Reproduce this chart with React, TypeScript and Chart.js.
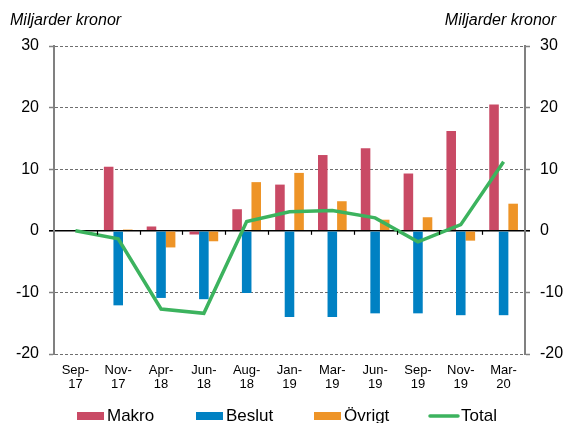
import React, { useEffect, useRef } from 'react';
import { Chart, registerables } from 'chart.js';

Chart.register(...registerables);

const categories = ['Sep-17', 'Nov-17', 'Apr-18', 'Jun-18', 'Aug-18', 'Jan-19', 'Mar-19', 'Jun-19', 'Sep-19', 'Nov-19', 'Mar-20'];
const makro = [0, 10.4, 0.7, -0.6, 3.5, 7.5, 12.3, 13.4, 9.3, 16.2, 20.5];
const beslut = [0, -12.1, -10.9, -11.1, -10.1, -14.0, -14.0, -13.4, -13.4, -13.7, -13.7];
const ovrigt = [0, 0.2, -2.7, -1.7, 7.9, 9.4, 4.8, 1.8, 2.2, -1.6, 4.4];
const total = [0, -1.3, -12.7, -13.4, 1.5, 3.1, 3.3, 2.1, -1.8, 1.0, 11.2];
const yMin = -20;
const yMax = 30;
const yStep = 10;
const axisTitle = 'Miljarder kronor';
const seriesNames = ['Makro', 'Beslut', 'Övrigt', 'Total'];

const COLORS = {
  makro: '#C94A65',
  beslut: '#0081C3',
  ovrigt: '#EE9427',
  total: '#3CB35E',
};

const FONT = '"Liberation Sans", Arial, sans-serif';

const overlayPlugin = {
  id: 'overlay',
  afterDraw(chart: any) {
    const ctx = chart.ctx;
    const x = chart.scales.x;
    const y = chart.scales.y;
    const zeroY = y.getPixelForValue(0);
    ctx.save();
    // boundary ticks on the zero line
    ctx.strokeStyle = '#000';
    ctx.lineWidth = 1.2;
    for (let i = 0; i < categories.length - 1; i++) {
      const bx = (x.getPixelForValue(i) + x.getPixelForValue(i + 1)) / 2;
      ctx.beginPath();
      ctx.moveTo(Math.round(bx) + 0.5, zeroY);
      ctx.lineTo(Math.round(bx) + 0.5, zeroY + 4);
      ctx.stroke();
    }
    // axis titles
    ctx.fillStyle = '#000';
    ctx.font = `italic 16px ${FONT}`;
    ctx.textBaseline = 'alphabetic';
    ctx.textAlign = 'left';
    ctx.fillText(axisTitle, 10, 25);
    ctx.textAlign = 'right';
    ctx.fillText(axisTitle, 556, 25);

    // legend
    ctx.font = `17px ${FONT}`;
    ctx.textAlign = 'left';
    const items = [
      { label: seriesNames[0], color: COLORS.makro, x: 77, type: 'box' },
      { label: seriesNames[1], color: COLORS.beslut, x: 196, type: 'box' },
      { label: seriesNames[2], color: COLORS.ovrigt, x: 314, type: 'box' },
      { label: seriesNames[3], color: COLORS.total, x: 429, type: 'line' },
    ];
    for (const it of items) {
      if (it.type === 'box') {
        ctx.fillStyle = it.color;
        ctx.fillRect(it.x, 412, 27, 8);
        ctx.fillStyle = '#000';
        ctx.fillText(it.label, it.x + 30, 420.5);
      } else {
        ctx.strokeStyle = it.color;
        ctx.lineWidth = 3.5;
        ctx.lineCap = 'round';
        ctx.beginPath();
        ctx.moveTo(it.x + 1, 416);
        ctx.lineTo(it.x + 29, 416);
        ctx.stroke();
        ctx.fillStyle = '#000';
        ctx.fillText(it.label, it.x + 32, 420.5);
      }
    }
    ctx.restore();
  },
};

const yAxisCommon = (position: 'left' | 'right') => ({
  type: 'linear' as const,
  position,
  min: yMin,
  max: yMax,
  ticks: {
    stepSize: yStep,
    color: '#000',
    padding: 10,
    font: { family: FONT, size: 16 },
  },
  grid: {
    drawOnChartArea: position === 'left',
    drawTicks: true,
    tickLength: 5,
    color: (c: any) => (c.tick && c.tick.value === 0 ? '#000' : '#6f6f6f'),
    lineWidth: (c: any) => (c.tick && c.tick.value === 0 ? 1.6 : 1),
    tickColor: (c: any) => (c.tick && c.tick.value === 0 ? '#000' : '#808080'),
    tickWidth: (c: any) => (c.tick && c.tick.value === 0 ? 1.6 : 1.5),
    tickBorderDash: [],
  },
  border: {
    display: true,
    color: '#808080',
    width: 2,
    dash: (c: any) => (c.tick && c.tick.value === 0 ? [] : [3, 2]),
  },
  afterFit: (scale: any) => {
    scale.width = position === 'left' ? 54 : 38;
  },
});

export default function App() {
  const canvasRef = useRef<HTMLCanvasElement | null>(null);

  useEffect(() => {
    if (!canvasRef.current) return;
    const chart = new Chart(canvasRef.current, {
      type: 'bar',
      data: {
        labels: categories,
        datasets: [
          {
            type: 'line',
            label: seriesNames[3],
            data: total,
            borderColor: COLORS.total,
            backgroundColor: COLORS.total,
            borderWidth: 3.5,
            pointRadius: 0,
            tension: 0,
            order: 0,
            yAxisID: 'y',
          } as any,
          {
            label: seriesNames[0],
            data: makro,
            backgroundColor: COLORS.makro,
            order: 1,
            yAxisID: 'y',
          },
          {
            label: seriesNames[1],
            data: beslut,
            backgroundColor: COLORS.beslut,
            order: 1,
            yAxisID: 'y',
          },
          {
            label: seriesNames[2],
            data: ovrigt,
            backgroundColor: COLORS.ovrigt,
            order: 1,
            yAxisID: 'y',
          },
        ],
      },
      options: {
        responsive: false,
        animation: false,
        maintainAspectRatio: false,
        datasets: {
          bar: {
            categoryPercentage: 0.67,
            barPercentage: 1.0,
            borderWidth: 0,
          },
        },
        layout: { padding: { top: 46, bottom: 24, left: 0, right: 0 } },
        plugins: {
          legend: { display: false },
          tooltip: { enabled: false },
          title: { display: false },
        },
        scales: {
          x: {
            type: 'category',
            offset: true,
            grid: { display: false, drawTicks: false },
            border: { display: false },
            ticks: {
              color: '#000',
              padding: 9,
              maxRotation: 0,
              autoSkip: false,
              font: { family: FONT, size: 13, lineHeight: 1.08 },
              callback: (_v: any, i: number) => {
                const s = categories[i];
                const k = s.indexOf('-');
                return [s.slice(0, k + 1), s.slice(k + 1)];
              },
            },
            afterFit: (scale: any) => {
              scale.height = 423 - 354 - 24;
            },
          },
          y: yAxisCommon('left') as any,
          y2: yAxisCommon('right') as any,
        },
      },
      plugins: [overlayPlugin],
    });
    return () => chart.destroy();
  }, []);

  return (
    <div style={{ position: 'absolute', left: 0, top: 0, width: 563, height: 423, background: '#fff' }}>
      <canvas ref={canvasRef} width={563} height={423} style={{ display: 'block' }} />
    </div>
  );
}
